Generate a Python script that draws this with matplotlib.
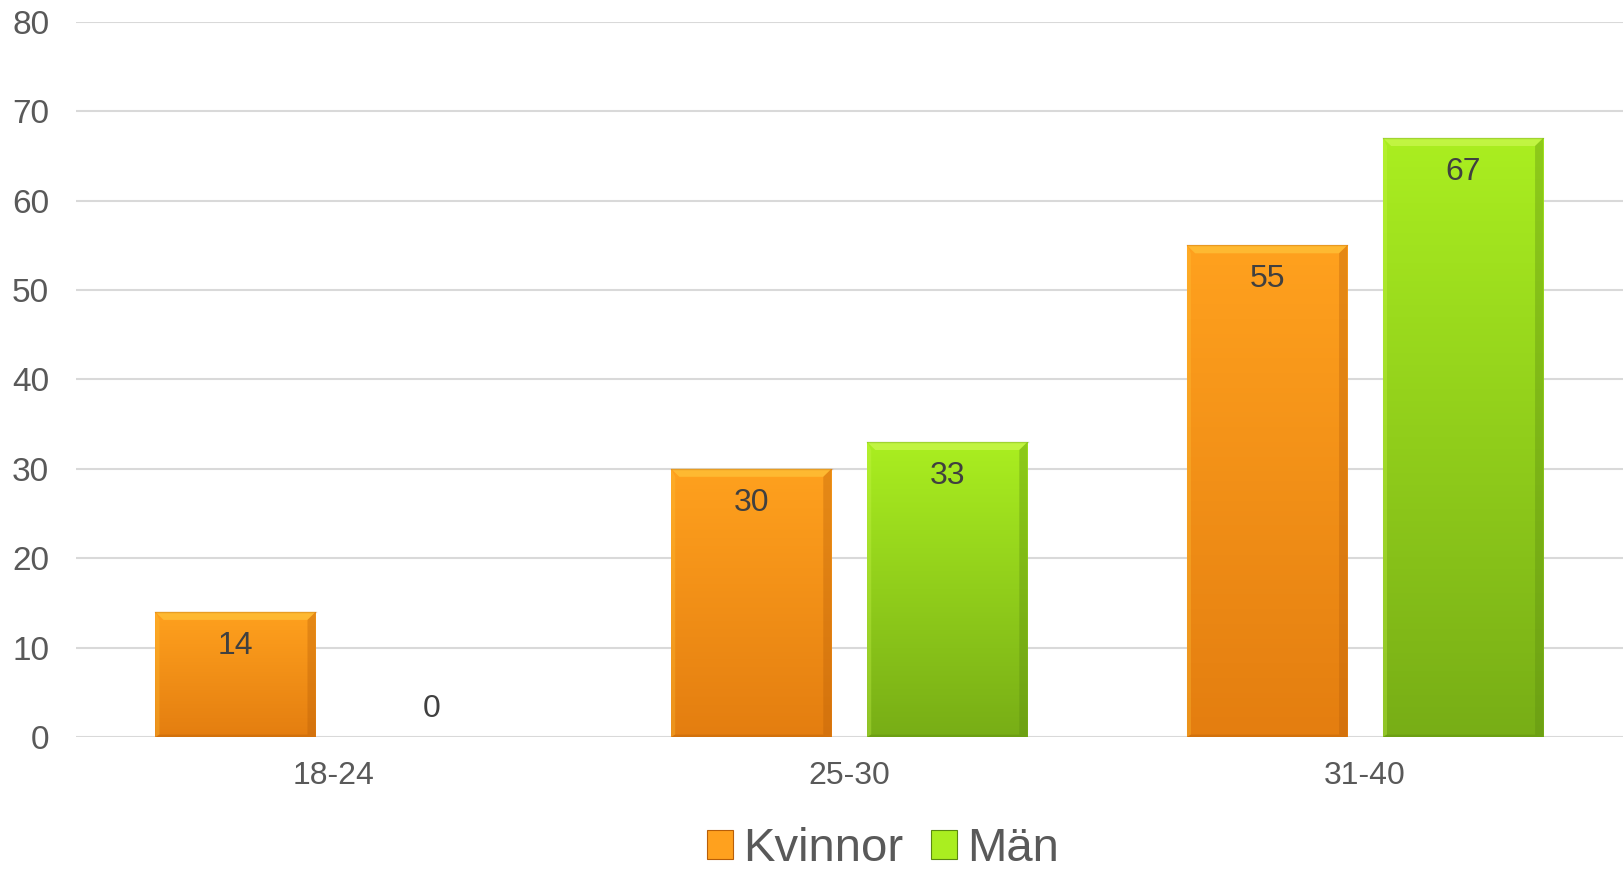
import numpy as np
import matplotlib.pyplot as plt
from matplotlib.patches import Polygon, Patch
from matplotlib.colors import LinearSegmentedColormap

plt.rcParams['font.family'] = ['Liberation Sans', 'DejaVu Sans']

categories = ["18-24", "25-30", "31-40"]
kvinnor = [14, 30, 55]
man = [0, 33, 67]
series = ["Kvinnor", "Män"]

# top / bottom gradient colours per series
grad = {
    "Kvinnor": ("#FFA11E", "#E47E10"),
    "Män": ("#AAEE20", "#78AE16"),
}
light = {"Kvinnor": "#FFC43A", "Män": "#CCF850"}
dark = {"Kvinnor": "#B85E08", "Män": "#5A8A10"}

text_col = "#595959"

fig = plt.figure(figsize=(16.23, 8.72), dpi=100)
ax = fig.add_axes([0.0466, 0.1548, 0.9534, 0.8203])

x = np.arange(len(categories))
w = 0.311
off = 0.19

ax.set_xlim(-0.5, 2.5)
ax.set_ylim(0, 80)
ax.set_yticks(range(0, 81, 10))
ax.yaxis.grid(True, color="#D9D9D9", linewidth=1.5)
ax.set_axisbelow(True)
for s in ax.spines.values():
    s.set_visible(False)
ax.tick_params(length=0, colors=text_col)
ax.tick_params(axis="y", pad=19, labelsize=24)
ax.tick_params(axis="x", pad=17, labelsize=23)
ax.set_xticks(x)
ax.set_xticklabels(categories)

bw_x = 0.016  # bevel width in data units
bw_y = 0.9

for name, vals, dx in [("Kvinnor", kvinnor, -off), ("Män", man, off)]:
    bars = ax.bar(x + dx, vals, w, color=grad[name][0], zorder=2)
    cmap = LinearSegmentedColormap.from_list(name, [grad[name][1], grad[name][0]])
    for b, v in zip(bars, vals):
        if v == 0:
            ax.annotate("0", (b.get_x() + w / 2, 0), xytext=(0, 20),
                        textcoords="offset points", ha="center", va="center",
                        fontsize=23, color="#404040")
            continue
        x0, x1 = b.get_x(), b.get_x() + w
        img = ax.imshow(np.linspace(0, 1, 100).reshape(-1, 1), cmap=cmap,
                        extent=[x0, x1, 0, v], origin="lower", aspect="auto",
                        zorder=3)
        img.set_clip_path(b)
        # bevel edges
        top = Polygon([[x0, v], [x1, v], [x1 - bw_x, v - bw_y], [x0 + bw_x, v - bw_y]],
                      closed=True, color=light[name], alpha=0.7, lw=0, zorder=4)
        right = Polygon([[x1, v], [x1, 0], [x1 - bw_x, bw_y * 0.3], [x1 - bw_x, v - bw_y]],
                        closed=True, color=dark[name], alpha=0.35, lw=0, zorder=4)
        left = Polygon([[x0, v], [x0, 0], [x0 + bw_x * 0.5, bw_y * 0.3], [x0 + bw_x * 0.5, v - bw_y]],
                       closed=True, color=light[name], alpha=0.3, lw=0, zorder=4)
        bottom = Polygon([[x0, 0], [x1, 0], [x1 - bw_x, bw_y * 0.3], [x0 + bw_x * 0.5, bw_y * 0.3]],
                         closed=True, color=dark[name], alpha=0.4, lw=0, zorder=4)
        for p in (top, right, left, bottom):
            ax.add_patch(p)
        ax.plot([x0, x1], [v, v], color=dark[name], alpha=0.3, lw=1, zorder=5)
        ax.annotate(str(v), (b.get_x() + w / 2, v), xytext=(0, -24.5),
                    textcoords="offset points", ha="center", va="center",
                    fontsize=23, color="#404040", zorder=6)

ax.set_xlim(-0.5, 2.5)
ax.set_ylim(0, 80)

handles = [Patch(facecolor=grad[s][0], edgecolor=dark[s], linewidth=0.8) for s in series]
fig.legend(handles, series, loc="center", bbox_to_anchor=(883 / 1623, 0.026),
           frameon=False, ncol=2, fontsize=34, handlelength=0.55, handleheight=0.55,
           handletextpad=0.2, columnspacing=0.6, borderpad=0, labelcolor=text_col)

fig.savefig("out.png", dpi=100)
